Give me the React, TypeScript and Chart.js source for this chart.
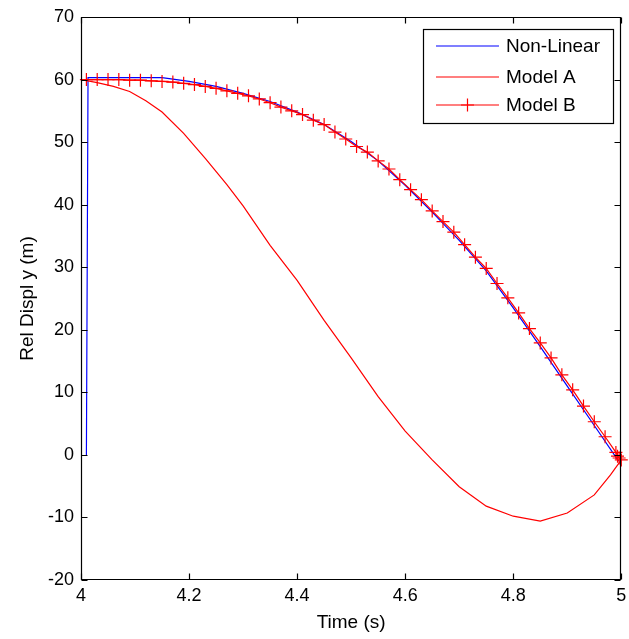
import React, { useEffect, useRef } from 'react';
import { Chart, registerables } from 'chart.js';

Chart.register(...registerables);

// ---- Data ----
const xTickValues = [4, 4.2, 4.4, 4.6, 4.8, 5];
const yTickValues = [-20, -10, 0, 10, 20, 30, 40, 50, 60, 70];

const nonLinearTime = [4.01, 4.013, 4.15, 4.2, 4.25, 4.3, 4.35, 4.4, 4.45, 4.5, 4.55, 4.6, 4.65, 4.7, 4.75, 4.8, 4.85, 4.9, 4.95, 4.995];
const nonLinearDispl = [0, 60.3, 60.3, 59.7, 58.9, 57.8, 56.5, 54.8, 52.8, 50.1, 47.0, 43.1, 38.8, 34.3, 29.4, 23.5, 17.3, 11.0, 4.7, -1.0];

const modelATime = [4.0, 4.03, 4.06, 4.09, 4.12, 4.15, 4.19, 4.23, 4.27, 4.3, 4.35, 4.4, 4.45, 4.5, 4.55, 4.6, 4.65, 4.7, 4.75, 4.8, 4.85, 4.9, 4.95, 4.98, 5.0];
const modelADispl = [60.0, 59.5, 58.9, 58.1, 56.6, 54.8, 51.4, 47.4, 43.2, 39.8, 33.5, 27.9, 21.5, 15.5, 9.3, 3.8, -0.8, -5.1, -8.2, -9.8, -10.6, -9.3, -6.4, -3.2, -0.8];

const modelBTime = [4.01, 4.03, 4.05, 4.07, 4.09, 4.11, 4.13, 4.15, 4.17, 4.19, 4.21, 4.23, 4.25, 4.27, 4.29, 4.31, 4.33, 4.35, 4.37, 4.39, 4.41, 4.43, 4.45, 4.47, 4.49, 4.51, 4.53, 4.55, 4.57, 4.59, 4.61, 4.63, 4.65, 4.67, 4.69, 4.71, 4.73, 4.75, 4.77, 4.79, 4.81, 4.83, 4.85, 4.87, 4.89, 4.91, 4.93, 4.95, 4.97, 4.99, 4.993, 4.996, 5.0];
const modelBDispl = [60.0, 60.0, 60.0, 60.0, 59.9, 59.9, 59.8, 59.7, 59.6, 59.4, 59.2, 58.9, 58.6, 58.2, 57.8, 57.4, 56.9, 56.3, 55.6, 55.0, 54.4, 53.5, 52.8, 51.6, 50.5, 49.3, 48.4, 47.0, 45.7, 44.0, 42.4, 40.8, 39.0, 37.3, 35.6, 33.6, 31.6, 29.8, 27.4, 25.1, 22.7, 20.2, 17.9, 15.5, 12.8, 10.4, 7.8, 5.3, 2.9, 0.4, -0.2, -0.5, -0.8];

const seriesNames = ['Non-Linear', 'Model A', 'Model B'];
const xTitle = 'Time (s)';
const yTitle = 'Rel Displ y (m)';

const FONT = "'Liberation Sans', Arial, Helvetica, sans-serif";

const toPoints = (xs: number[], ys: number[]) => xs.map((x, i) => ({ x, y: ys[i] }));

const framePlugin = {
  id: 'matlabFrame',
  afterDraw(chart: any) {
    const { ctx, chartArea, scales } = chart;
    const { left, right, top, bottom } = chartArea;
    const L = Math.round(left) + 0.5;
    const R = Math.round(right) - 0.5;
    const T = Math.round(top) + 0.5;
    const B = Math.round(bottom) - 0.5;
    ctx.save();
    ctx.strokeStyle = '#000';
    ctx.lineWidth = 1.2;
    ctx.beginPath();
    ctx.rect(L, T, R - L, B - T);
    ctx.stroke();
    const tl = 6;
    ctx.beginPath();
    xTickValues.forEach((v) => {
      const px = Math.round(scales.x.getPixelForValue(v)) + 0.5;
      ctx.moveTo(px, B);
      ctx.lineTo(px, B - tl);
      ctx.moveTo(px, T);
      ctx.lineTo(px, T + tl);
    });
    yTickValues.forEach((v) => {
      const py = Math.round(scales.y.getPixelForValue(v)) + 0.5;
      ctx.moveTo(L, py);
      ctx.lineTo(L + tl, py);
      ctx.moveTo(R, py);
      ctx.lineTo(R - tl, py);
    });
    ctx.stroke();

    // Legend
    const bx = 423.5, by = 29.5, bw = 190, bh = 94;
    ctx.lineWidth = 1.2;
    ctx.fillStyle = '#fff';
    ctx.fillRect(bx, by, bw, bh);
    ctx.strokeRect(bx, by, bw, bh);
    const rows = [46, 77, 105];
    const colors = ['#0000ff', '#ff0000', '#ff0000'];
    ctx.font = `19px ${FONT}`;
    ctx.textBaseline = 'middle';
    ctx.textAlign = 'left';
    rows.forEach((ry, i) => {
      const y = ry;
      ctx.strokeStyle = colors[i];
      ctx.lineWidth = 1.2;
      ctx.beginPath();
      ctx.moveTo(436, y);
      ctx.lineTo(499, y);
      ctx.stroke();
      if (i === 2) {
        ctx.beginPath();
        ctx.moveTo(467.5, y - 6.5);
        ctx.lineTo(467.5, y + 6.5);
        ctx.moveTo(461, y);
        ctx.lineTo(474, y);
        ctx.stroke();
      }
      ctx.fillStyle = '#000';
      ctx.fillText(seriesNames[i], 506, ry + 1);
    });
    ctx.restore();
  },
};

export default function App() {
  const canvasRef = useRef<HTMLCanvasElement | null>(null);

  useEffect(() => {
    document.body.style.margin = '0';
    const canvas = canvasRef.current;
    if (!canvas) return;
    const chart = new Chart(canvas, {
      type: 'line',
      data: {
        datasets: [
          {
            label: seriesNames[0],
            data: toPoints(nonLinearTime, nonLinearDispl),
            borderColor: '#0000ff',
            borderWidth: 1.2,
            pointRadius: 0,
            tension: 0,
            fill: false,
            order: 2,
          },
          {
            label: seriesNames[1],
            data: toPoints(modelATime, modelADispl),
            borderColor: '#ff0000',
            borderWidth: 1.2,
            pointRadius: 0,
            tension: 0,
            fill: false,
            order: 1,
          },
          {
            label: seriesNames[2],
            data: toPoints(modelBTime, modelBDispl),
            borderColor: '#ff0000',
            borderWidth: 1.2,
            pointStyle: 'cross',
            pointRadius: 6.5,
            pointBorderColor: '#ff0000',
            pointBorderWidth: 1.2,
            tension: 0,
            fill: false,
            clip: false as any,
            order: 0,
          },
        ],
      },
      options: {
        responsive: false,
        animation: false,
        events: [],
        layout: { padding: { top: 17, right: 6, left: 0, bottom: 0 } },
        plugins: {
          legend: { display: false },
          tooltip: { enabled: false },
        },
        scales: {
          x: {
            type: 'linear',
            min: 4,
            max: 5,
            grid: { display: false, drawTicks: false },
            border: { display: false },
            afterBuildTicks: (s: any) => {
              s.ticks = xTickValues.map((v) => ({ value: v }));
            },
            afterFit: (s: any) => {
              s.height = 59;
              s.paddingLeft = 0;
              s.paddingRight = 0;
            },
            ticks: {
              color: '#000',
              font: { family: FONT, size: 18 },
              padding: 5,
              maxRotation: 0,
              autoSkip: false,
              callback: (v: any) => String(v),
            },
            title: {
              display: true,
              text: xTitle,
              color: '#000',
              font: { family: FONT, size: 19 },
              padding: { top: 0, bottom: 4.5 },
            },
          },
          y: {
            type: 'linear',
            min: -20,
            max: 70,
            grid: { display: false, drawTicks: false },
            border: { display: false },
            afterBuildTicks: (s: any) => {
              s.ticks = yTickValues.map((v) => ({ value: v }));
            },
            afterFit: (s: any) => {
              s.width = 81;
              s.paddingTop = 0;
              s.paddingBottom = 0;
            },
            ticks: {
              color: '#000',
              font: { family: FONT, size: 18 },
              padding: 7,
              autoSkip: false,
              callback: (v: any) => String(v),
            },
            title: {
              display: true,
              text: yTitle,
              color: '#000',
              font: { family: FONT, size: 19 },
              padding: { top: 16, bottom: 0 },
            },
          },
        },
      },
      plugins: [framePlugin],
    });
    return () => chart.destroy();
  }, []);

  return (
    <div style={{ position: 'absolute', left: 0, top: 0, width: 629, height: 639, background: '#fff' }}>
      <canvas ref={canvasRef} width={629} height={639} style={{ width: 629, height: 639, display: 'block' }} />
    </div>
  );
}
